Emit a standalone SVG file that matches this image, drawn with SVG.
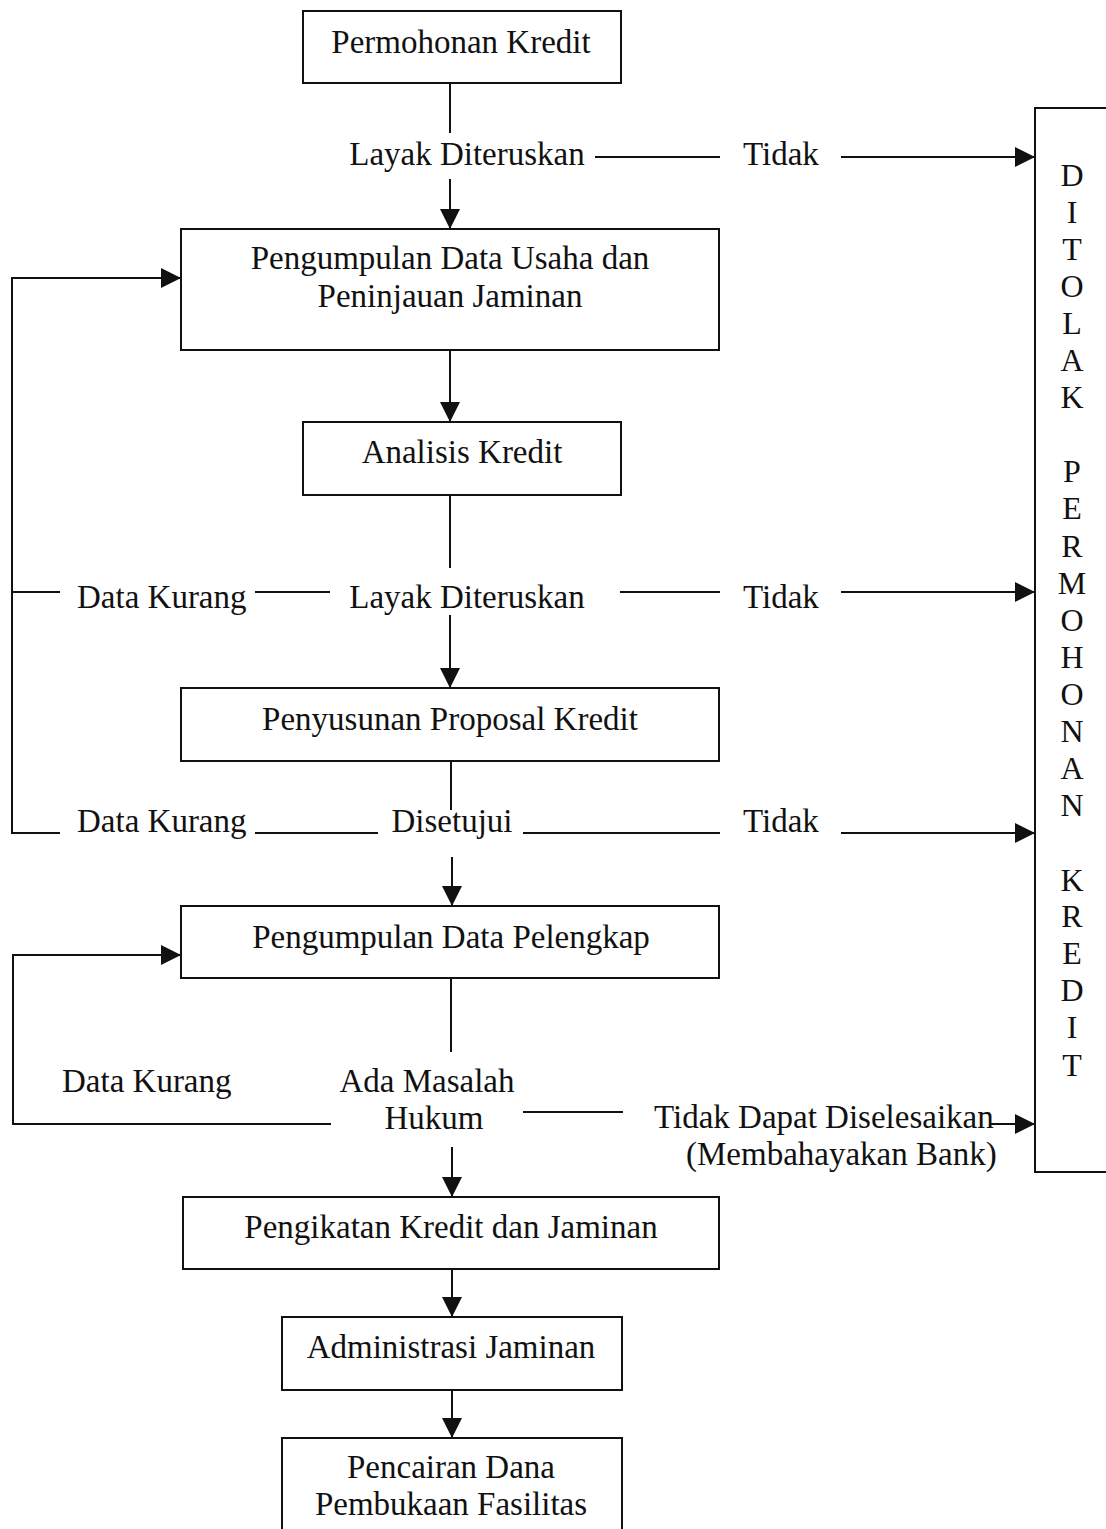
<svg xmlns="http://www.w3.org/2000/svg" width="1106" height="1529" viewBox="0 0 1106 1529">
<style>
text{font-family:"Liberation Serif","Times New Roman",serif;font-size:33px;fill:#111}
.c{text-anchor:middle}
.v{font-size:32px}
.box{fill:#fff;stroke:#111;stroke-width:2}
.ln{fill:none;stroke:#111;stroke-width:2}
.ar{fill:none;stroke:#111;stroke-width:2;marker-end:url(#ah)}
</style>
<defs>
<marker id="ah" viewBox="0 0 20 20" refX="20" refY="10" markerWidth="20" markerHeight="20" markerUnits="userSpaceOnUse" orient="auto">
<path d="M0,0 L20,10 L0,20 Z" fill="#111"/>
</marker>
</defs>
<rect width="1106" height="1529" fill="#fff"/>
<g id="connectors">
<line class="ln" x1="450" y1="83" x2="450" y2="133"/>
<line class="ar" x1="450" y1="179" x2="450" y2="229"/>
<line class="ar" x1="450" y1="350" x2="450" y2="422"/>
<line class="ln" x1="450" y1="495" x2="450" y2="568"/>
<line class="ar" x1="450" y1="615" x2="450" y2="688"/>
<line class="ln" x1="451" y1="761" x2="451" y2="810"/>
<line class="ar" x1="452" y1="857" x2="452" y2="906"/>
<line class="ln" x1="451" y1="978" x2="451" y2="1052"/>
<line class="ar" x1="452" y1="1147" x2="452" y2="1197"/>
<line class="ar" x1="452" y1="1269" x2="452" y2="1317"/>
<line class="ar" x1="452" y1="1390" x2="452" y2="1438"/>
<line class="ln" x1="595" y1="157" x2="720" y2="157"/>
<line class="ar" x1="841" y1="157" x2="1035" y2="157"/>
<line class="ln" x1="620" y1="592" x2="720" y2="592"/>
<line class="ar" x1="841" y1="592" x2="1035" y2="592"/>
<line class="ln" x1="523" y1="833" x2="720" y2="833"/>
<line class="ar" x1="841" y1="833" x2="1035" y2="833"/>
<line class="ln" x1="523" y1="1112" x2="623" y2="1112"/>
<line class="ar" x1="990" y1="1124" x2="1035" y2="1124"/>
<polyline class="ar" points="60,833 12,833 12,278 181,278"/>
<line class="ln" x1="12" y1="592" x2="60" y2="592"/>
<line class="ln" x1="255" y1="592" x2="330" y2="592"/>
<line class="ln" x1="255" y1="833" x2="378" y2="833"/>
<polyline class="ar" points="331,1124 13,1124 13,955 181,955"/>
</g>
<g id="node-permohonan">
<rect class="box" x="303" y="11" width="318" height="72"/>
<text class="c" x="461" y="53">Permohonan Kredit</text>
</g>
<g id="label-layak1">
<text class="c" x="467" y="165">Layak Diteruskan</text>
<text x="743" y="165">Tidak</text>
</g>
<g id="node-pengumpulan-usaha">
<rect class="box" x="181" y="229" width="538" height="121"/>
<text class="c" x="450" y="269">Pengumpulan Data Usaha dan</text>
<text class="c" x="450" y="307">Peninjauan Jaminan</text>
</g>
<g id="node-analisis">
<rect class="box" x="303" y="422" width="318" height="73"/>
<text class="c" x="462" y="463">Analisis Kredit</text>
</g>
<g id="label-layak2">
<text x="77" y="608">Data Kurang</text>
<text class="c" x="467" y="608">Layak Diteruskan</text>
<text x="743" y="608">Tidak</text>
</g>
<g id="node-proposal">
<rect class="box" x="181" y="688" width="538" height="73"/>
<text class="c" x="450" y="730">Penyusunan Proposal Kredit</text>
</g>
<g id="label-disetujui">
<text x="77" y="832">Data Kurang</text>
<text class="c" x="452" y="832">Disetujui</text>
<text x="743" y="832">Tidak</text>
</g>
<g id="node-pelengkap">
<rect class="box" x="181" y="906" width="538" height="72"/>
<text class="c" x="451" y="948">Pengumpulan Data Pelengkap</text>
</g>
<g id="label-hukum">
<text x="62" y="1092">Data Kurang</text>
<text class="c" x="427" y="1092">Ada Masalah</text>
<text class="c" x="434" y="1129">Hukum</text>
<text x="654" y="1128">Tidak Dapat Diselesaikan</text>
<text x="686" y="1165">(Membahayakan Bank)</text>
</g>
<g id="node-pengikatan">
<rect class="box" x="183" y="1197" width="536" height="72"/>
<text class="c" x="451" y="1238">Pengikatan Kredit dan Jaminan</text>
</g>
<g id="node-administrasi">
<rect class="box" x="282" y="1317" width="340" height="73"/>
<text class="c" x="451" y="1358">Administrasi Jaminan</text>
</g>
<g id="node-pencairan">
<rect class="box" x="282" y="1438" width="340" height="120"/>
<text class="c" x="451" y="1478">Pencairan Dana</text>
<text class="c" x="451" y="1515">Pembukaan Fasilitas</text>
</g>
<g id="node-ditolak">
<rect class="box" x="1035" y="108" width="100" height="1064"/>
<text class="c v" x="1072" y="186">D</text>
<text class="c v" x="1072" y="223">I</text>
<text class="c v" x="1072" y="260">T</text>
<text class="c v" x="1072" y="297">O</text>
<text class="c v" x="1072" y="334">L</text>
<text class="c v" x="1072" y="371">A</text>
<text class="c v" x="1072" y="408">K</text>
<text class="c v" x="1072" y="482">P</text>
<text class="c v" x="1072" y="519">E</text>
<text class="c v" x="1072" y="557">R</text>
<text class="c v" x="1072" y="594">M</text>
<text class="c v" x="1072" y="631">O</text>
<text class="c v" x="1072" y="668">H</text>
<text class="c v" x="1072" y="705">O</text>
<text class="c v" x="1072" y="742">N</text>
<text class="c v" x="1072" y="779">A</text>
<text class="c v" x="1072" y="816">N</text>
<text class="c v" x="1072" y="891">K</text>
<text class="c v" x="1072" y="927">R</text>
<text class="c v" x="1072" y="964">E</text>
<text class="c v" x="1072" y="1001">D</text>
<text class="c v" x="1072" y="1038">I</text>
<text class="c v" x="1072" y="1076">T</text>
</g>
</svg>
